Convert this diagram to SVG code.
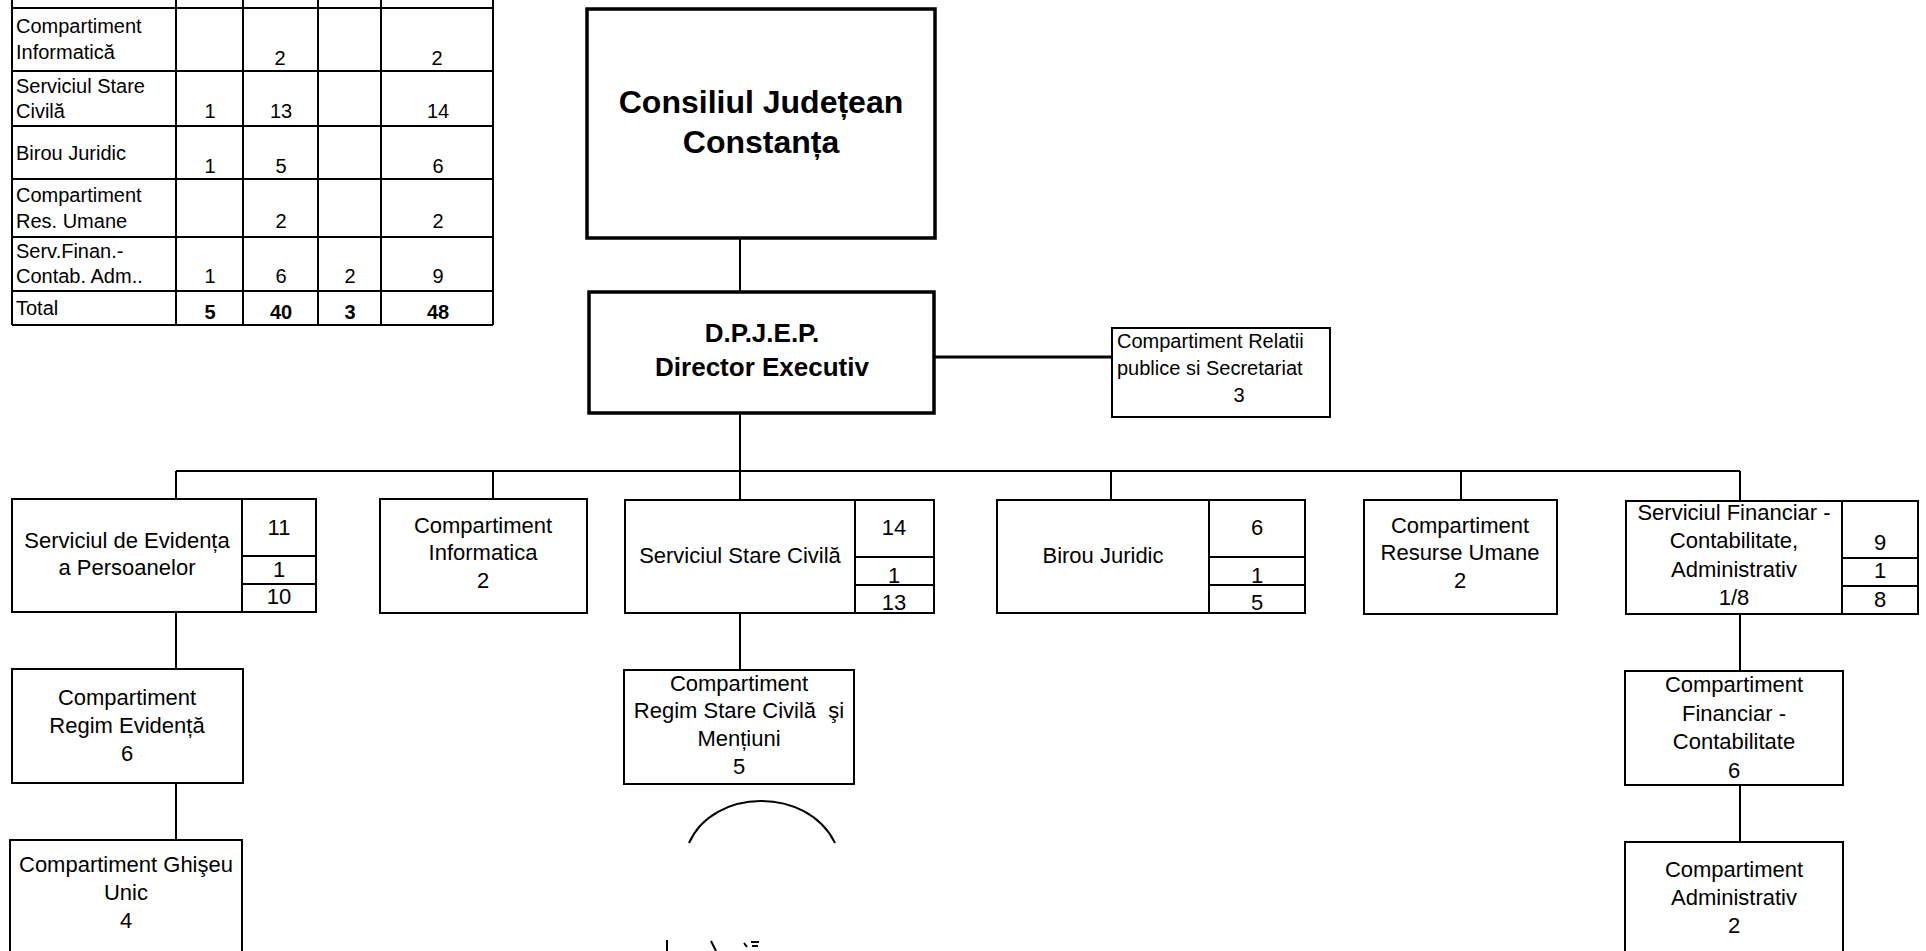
<svg xmlns="http://www.w3.org/2000/svg" width="1926" height="951" viewBox="0 0 1926 951">
<style>
text{font-family:"Liberation Sans",Arial,sans-serif;fill:#000}
.t{font-size:20px}
.tb{font-size:20px;font-weight:bold}
.n{font-size:22px;text-anchor:middle}
.h{font-weight:bold;text-anchor:middle}
.c{text-anchor:middle}
.box{fill:#fff;stroke:#000;stroke-width:2}
.thick{fill:#fff;stroke:#000;stroke-width:3.5}
.ln{stroke:#000;stroke-width:2;fill:none}
</style>
<rect width="1926" height="951" fill="#fff"/>

<g id="table">
<path class="ln" d="M12 -5V325M176 -5V325M243 -5V325M318 -5V325M381 -5V325M493 -5V325M12 8H493M12 71H493M12 126H493M12 179H493M12 237H493M12 291H493M12 325H493"/>
<text class="t" x="16" y="33">Compartiment</text>
<text class="t" x="16" y="59">Informatică</text>
<text class="t c" x="280" y="65">2</text>
<text class="t c" x="437" y="65">2</text>
<text class="t" x="16" y="93">Serviciul Stare</text>
<text class="t" x="16" y="118">Civilă</text>
<text class="t c" x="210" y="118">1</text>
<text class="t c" x="281" y="118">13</text>
<text class="t c" x="438" y="118">14</text>
<text class="t" x="16" y="160">Birou Juridic</text>
<text class="t c" x="210" y="173">1</text>
<text class="t c" x="281" y="173">5</text>
<text class="t c" x="438" y="173">6</text>
<text class="t" x="16" y="202">Compartiment</text>
<text class="t" x="16" y="228">Res. Umane</text>
<text class="t c" x="281" y="228">2</text>
<text class="t c" x="438" y="228">2</text>
<text class="t" x="16" y="258">Serv.Finan.-</text>
<text class="t" x="16" y="283">Contab. Adm..</text>
<text class="t c" x="210" y="283">1</text>
<text class="t c" x="281" y="283">6</text>
<text class="t c" x="350" y="283">2</text>
<text class="t c" x="438" y="283">9</text>
<text class="t" x="16" y="315">Total</text>
<text class="tb c" x="210" y="319">5</text>
<text class="tb c" x="281" y="319">40</text>
<text class="tb c" x="350" y="319">3</text>
<text class="tb c" x="438" y="319">48</text>
</g>

<g id="connectors">
<path class="ln" d="M740 238V292M740 413V471M176 471H1740M176 471V499M493 471V499M740 471V500M1111 471V500M1461 471V500M1740 471V501M176 612V669M176 783V840M740 613V670M1740 614V671M1740 785V842"/>
<path d="M934 357H1112" stroke="#000" stroke-width="3"/>
</g>

<g id="consiliul">
<rect class="thick" x="587" y="9" width="348" height="229"/>
<text class="h" x="761" y="113" font-size="32">Consiliul Județean</text>
<text class="h" x="761" y="153" font-size="32">Constanța</text>
</g>

<g id="dpjep">
<rect class="thick" x="589" y="292" width="345" height="121"/>
<text class="h" x="762" y="342" font-size="26">D.P.J.E.P.</text>
<text class="h" x="762" y="376" font-size="26">Director Executiv</text>
</g>

<g id="relatii">
<rect class="box" x="1112" y="328" width="218" height="89"/>
<text x="1117" y="348" font-size="20">Compartiment Relatii</text>
<text x="1117" y="375" font-size="20">publice si Secretariat</text>
<text x="1239" y="402" font-size="20" text-anchor="middle">3</text>
</g>

<g id="evidenta">
<rect class="box" x="12" y="499" width="304" height="113"/>
<path class="ln" d="M242 499V612M242 556H316M242 584H316"/>
<text class="n" x="127" y="548">Serviciul de Evidența</text>
<text class="n" x="127" y="575">a Persoanelor</text>
<text class="n" x="279" y="535">11</text>
<text class="n" x="279" y="577">1</text>
<text class="n" x="279" y="604">10</text>
</g>

<g id="informatica">
<rect class="box" x="380" y="499" width="207" height="114"/>
<text class="n" x="483" y="533">Compartiment</text>
<text class="n" x="483" y="560">Informatica</text>
<text class="n" x="483" y="588">2</text>
</g>

<g id="starecivila">
<rect class="box" x="625" y="500" width="309" height="113"/>
<path class="ln" d="M855 500V613M855 557H934M855 585H934"/>
<text class="n" x="740" y="563">Serviciul Stare Civilă</text>
<text class="n" x="894" y="535">14</text>
<text class="n" x="894" y="583">1</text>
<text class="n" x="894" y="610">13</text>
</g>

<g id="juridic">
<rect class="box" x="997" y="500" width="308" height="113"/>
<path class="ln" d="M1209 500V613M1209 557H1305M1209 585H1305"/>
<text class="n" x="1103" y="563">Birou Juridic</text>
<text class="n" x="1257" y="535">6</text>
<text class="n" x="1257" y="583">1</text>
<text class="n" x="1257" y="610">5</text>
</g>

<g id="resurse">
<rect class="box" x="1364" y="500" width="193" height="114"/>
<text class="n" x="1460" y="533">Compartiment</text>
<text class="n" x="1460" y="560">Resurse Umane</text>
<text class="n" x="1460" y="588">2</text>
</g>

<g id="financiar">
<rect class="box" x="1626" y="501" width="292" height="113"/>
<path class="ln" d="M1842 501V614M1842 558H1918M1842 586H1918"/>
<text class="n" x="1734" y="520">Serviciul Financiar -</text>
<text class="n" x="1734" y="548">Contabilitate,</text>
<text class="n" x="1734" y="577">Administrativ</text>
<text class="n" x="1734" y="605">1/8</text>
<text class="n" x="1880" y="550">9</text>
<text class="n" x="1880" y="578">1</text>
<text class="n" x="1880" y="607">8</text>
</g>

<g id="regimevidenta">
<rect class="box" x="12" y="669" width="231" height="114"/>
<text class="n" x="127" y="705">Compartiment</text>
<text class="n" x="127" y="733">Regim Evidență</text>
<text class="n" x="127" y="761">6</text>
</g>

<g id="regimstarecivila">
<rect class="box" x="624" y="670" width="230" height="114"/>
<text class="n" x="739" y="691">Compartiment</text>
<text class="n" x="739" y="718" style="white-space:pre">Regim Stare Civilă  şi</text>
<text class="n" x="739" y="746">Mențiuni</text>
<text class="n" x="739" y="774">5</text>
</g>

<g id="fincontab">
<rect class="box" x="1625" y="671" width="218" height="114"/>
<text class="n" x="1734" y="692">Compartiment</text>
<text class="n" x="1734" y="721">Financiar -</text>
<text class="n" x="1734" y="749">Contabilitate</text>
<text class="n" x="1734" y="778">6</text>
</g>

<g id="ghiseu">
<rect class="box" x="10" y="840" width="232" height="130"/>
<text class="n" x="126" y="872" font-size="22.8">Compartiment Ghişeu</text>
<text class="n" x="126" y="900">Unic</text>
<text class="n" x="126" y="928">4</text>
</g>

<g id="administrativ">
<rect class="box" x="1625" y="842" width="218" height="130"/>
<text class="n" x="1734" y="877">Compartiment</text>
<text class="n" x="1734" y="905">Administrativ</text>
<text class="n" x="1734" y="933">2</text>
</g>

<g id="marks">
<path class="ln" d="M689 843C713 788 807 786 835 843"/>
<path class="ln" d="M667 940V951M711 941L716 951M744 943L747 947M751 942H759M752 946H758" stroke-width="1.6"/>
</g>
</svg>
